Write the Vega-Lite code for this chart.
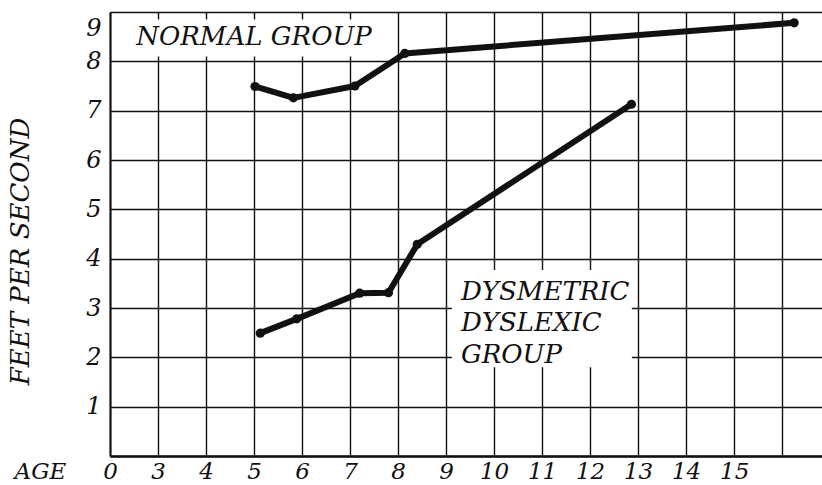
{
  "$schema": "https://vega.github.io/schema/vega-lite/v6.json",
  "width": 712,
  "height": 444,
  "autosize": {"type": "none"},
  "padding": {"left": 110, "top": 12, "right": 0, "bottom": 29},
  "background": "white",
  "config": {"view": {"stroke": null}, "font": "DejaVu Serif"},
  "datasets": {
    "lines": [
      {"group": "Normal", "age": 5.02, "speed": 7.49},
      {"group": "Normal", "age": 5.82, "speed": 7.26},
      {"group": "Normal", "age": 7.10, "speed": 7.50},
      {"group": "Normal", "age": 8.14, "speed": 8.16},
      {"group": "Normal", "age": 16.25, "speed": 8.78},
      {"group": "Dyslexic", "age": 5.13, "speed": 2.49},
      {"group": "Dyslexic", "age": 5.89, "speed": 2.78},
      {"group": "Dyslexic", "age": 7.20, "speed": 3.30},
      {"group": "Dyslexic", "age": 7.80, "speed": 3.31},
      {"group": "Dyslexic", "age": 8.40, "speed": 4.29},
      {"group": "Dyslexic", "age": 12.86, "speed": 7.13}
    ],
    "boxes": [
      {"age": 2.1, "age2": 7.83, "speed": 8.1, "speed2": 8.85},
      {"age": 9.12, "age2": 12.87, "speed": 1.8, "speed2": 3.77}
    ],
    "normalLabel": [
      {"age": 5.0, "speed": 8.49, "label": "NORMAL GROUP"}
    ],
    "dyslexicLabel": [
      {"age": 9.31, "speed": 3.32, "label": "DYSMETRIC"},
      {"age": 9.31, "speed": 2.70, "label": "DYSLEXIC"},
      {"age": 9.31, "speed": 2.05, "label": "GROUP"}
    ]
  },
  "encoding": {
    "x": {
      "field": "age",
      "type": "quantitative",
      "scale": {"domain": [2, 16.83], "nice": false, "zero": false},
      "axis": {
        "values": [2, 3, 4, 5, 6, 7, 8, 9, 10, 11, 12, 13, 14, 15, 16],
        "labelExpr": "datum.value == 2 ? '0' : datum.value == 16 ? '' : datum.label",
        "grid": true,
        "gridColor": "#111111",
        "gridWidth": 1.4,
        "gridOpacity": 1,
        "domain": true,
        "domainColor": "#111111",
        "domainWidth": 2.5,
        "ticks": false,
        "tickSize": 0,
        "labelPadding": 22,
        "labelBaseline": "alphabetic",
        "labelFlush": false,
        "labelOverlap": false,
        "labelFont": "DejaVu Serif",
        "labelFontStyle": "italic",
        "labelFontSize": 23,
        "labelColor": "#111111",
        "title": "AGE",
        "titleFont": "DejaVu Serif",
        "titleFontStyle": "italic",
        "titleFontWeight": "normal",
        "titleFontSize": 23,
        "titleColor": "#111111",
        "titleX": -70,
        "titleY": 22,
        "titleAlign": "center",
        "titleBaseline": "alphabetic"
      }
    },
    "y": {
      "field": "speed",
      "type": "quantitative",
      "scale": {"domain": [0, 9], "nice": false, "zero": true},
      "axis": {
        "values": [0, 1, 2, 3, 4, 5, 6, 7, 8, 9],
        "labelExpr": "datum.value == 0 ? '' : datum.label",
        "grid": true,
        "gridColor": "#111111",
        "gridWidth": 1.4,
        "gridOpacity": 1,
        "domain": true,
        "domainColor": "#111111",
        "domainWidth": 2,
        "ticks": false,
        "tickSize": 0,
        "labelPadding": 9,
        "labelFlush": true,
        "labelFlushOffset": -4,
        "labelOverlap": false,
        "labelFont": "DejaVu Serif",
        "labelFontStyle": "italic",
        "labelFontSize": 24,
        "labelColor": "#111111",
        "title": "FEET PER SECOND",
        "titleFont": "DejaVu Serif",
        "titleFontStyle": "italic",
        "titleFontWeight": "normal",
        "titleFontSize": 26,
        "titleColor": "#111111",
        "titleAngle": -90,
        "titleX": -90,
        "titleY": 239,
        "titleAlign": "center",
        "titleBaseline": "middle"
      }
    }
  },
  "layer": [
    {
      "data": {"name": "boxes"},
      "mark": {"type": "rect", "fill": "white", "stroke": null},
      "encoding": {
        "x2": {"field": "age2"},
        "y2": {"field": "speed2"}
      }
    },
    {
      "data": {"name": "normalLabel"},
      "mark": {"type": "text", "font": "DejaVu Serif", "fontStyle": "italic", "fontSize": 26, "align": "center", "baseline": "middle", "color": "#111111"},
      "encoding": {
        "text": {"field": "label"}
      }
    },
    {
      "data": {"name": "dyslexicLabel"},
      "mark": {"type": "text", "font": "DejaVu Serif", "fontStyle": "italic", "fontSize": 26, "align": "left", "baseline": "middle", "color": "#111111"},
      "encoding": {
        "text": {"field": "label"}
      }
    },
    {
      "data": {"name": "lines"},
      "mark": {"type": "line", "color": "#111111", "strokeWidth": 6, "strokeCap": "round", "strokeJoin": "round", "point": {"filled": true, "size": 85, "color": "#111111"}},
      "encoding": {
        "detail": {"field": "group", "type": "nominal"}
      }
    }
  ]
}
